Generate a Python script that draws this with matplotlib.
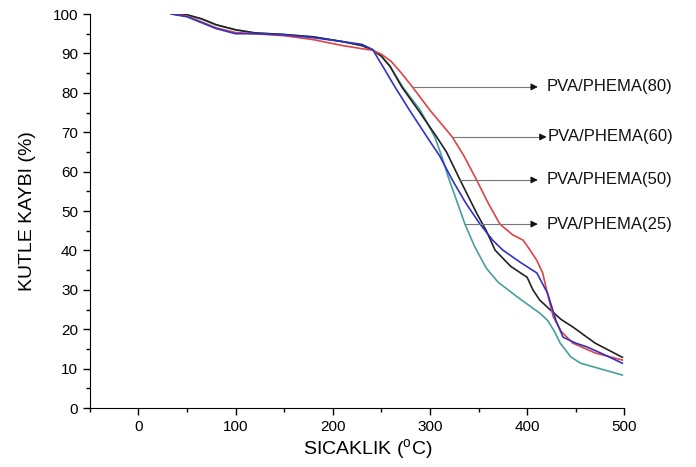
import matplotlib
matplotlib.use("Agg")
import matplotlib.pyplot as plt
from matplotlib.ticker import MultipleLocator

plt.rcParams['font.family'] = ['Liberation Sans', 'DejaVu Sans']
plt.rcParams['mathtext.fontset'] = 'custom'
plt.rcParams['mathtext.rm'] = 'Liberation Sans'

# early part (~35-241 C), same grid for all four
t_early = [34, 50, 65, 80, 100, 120, 150, 180, 210, 230, 241]
black_early = [100, 99.8, 98.8, 97.3, 96.0, 95.2, 94.8, 94.2, 93.0, 92.0, 90.9]
red_early = [100, 99.5, 98.0, 96.5, 95.3, 95.0, 94.5, 93.5, 92.0, 91.2, 90.8]
blue_early = [100, 99.3, 97.8, 96.3, 95.0, 95.0, 94.7, 94.0, 93.0, 92.3, 91.0]
teal_early = [100, 99.8, 98.7, 97.2, 96.0, 95.2, 94.8, 94.2, 93.0, 92.0, 90.9]

# decomposition part
t_red = [250, 260, 270, 282, 300, 323, 335, 348, 360, 372, 385, 396, 403, 410, 416, 421, 427, 435, 447, 470, 498]
red_late = [89.8, 88.0, 85.2, 81.5, 75.6, 68.8, 64.0, 57.9, 52.0, 46.7, 44.0, 42.6, 40.1, 37.5, 34.3, 29.0, 23.1, 19.5, 16.5, 14.0, 12.2]

t_black = [250, 259, 271, 288, 307, 317, 331, 348, 358, 367, 383, 400, 406, 413, 424, 435, 447, 470, 498]
black_late = [89.3, 86.7, 81.5, 75.6, 68.8, 65.0, 57.9, 49.5, 45.0, 40.1, 36.0, 33.2, 30.0, 27.4, 24.9, 22.5, 20.6, 16.5, 12.9]

t_blue = [251.5, 264, 279, 297, 310, 323, 337, 351.5, 365, 375, 393, 410, 416, 421, 430, 437, 450, 462, 480, 498]
blue_late = [86.7, 81.5, 75.6, 68.8, 64.0, 57.9, 52.0, 46.7, 42.5, 40.1, 37.0, 34.3, 31.5, 29.2, 22.0, 18.0, 16.5, 15.5, 13.5, 11.4]

t_teal = [250, 259, 272, 290, 305, 312, 319, 327, 336, 346, 358, 370, 390, 413, 421, 428, 434, 445, 455, 475, 498]
teal_late = [89.3, 86.7, 81.5, 75.6, 68.8, 64.0, 58.5, 53.0, 46.7, 41.0, 35.5, 32.0, 28.2, 24.1, 22.3, 19.5, 16.5, 13.0, 11.4, 10.0, 8.4]

labels = ['PVA/PHEMA(80)', 'PVA/PHEMA(60)', 'PVA/PHEMA(50)', 'PVA/PHEMA(25)']
arrow_start_x = [282, 323, 331, 336]
arrow_y = [81.5, 68.8, 57.9, 46.7]
arrow_tip_x = [411, 420, 411, 411]
label_x = [420.5, 421.5, 420.5, 420.5]

fig = plt.figure(figsize=(6.96, 4.67), dpi=100)
ax = fig.add_axes([0.129, 0.126, 0.768, 0.844])

ax.plot(t_early + t_teal, teal_early + teal_late, color='#45a09c', lw=1.2)
ax.plot(t_early + t_black, black_early + black_late, color='#222222', lw=1.2)
ax.plot(t_early + t_red, red_early + red_late, color='#dd4444', lw=1.2)
ax.plot(t_early + t_blue, blue_early + blue_late, color='#3232c8', lw=1.2)

for lab, x0, y0, x1, xt in zip(labels, arrow_start_x, arrow_y, arrow_tip_x, label_x):
    ax.plot([x0, x1 - 4], [y0, y0], color='#777777', lw=0.8)
    ax.annotate('', xy=(x1, y0), xytext=(x1 - 5, y0),
                arrowprops=dict(arrowstyle='-|>', color='#111111', lw=0.8,
                                mutation_scale=10, shrinkA=0, shrinkB=0))
    ax.text(xt, y0, lab, fontsize=12, va='center', ha='left', color='#111111')

ax.set_xlim(-50, 500)
ax.set_ylim(0, 100)
ax.xaxis.set_major_locator(MultipleLocator(100))
ax.xaxis.set_minor_locator(MultipleLocator(50))
ax.yaxis.set_major_locator(MultipleLocator(10))
ax.yaxis.set_minor_locator(MultipleLocator(5))
ax.tick_params(which='major', direction='out', length=5, width=1, labelsize=11)
ax.tick_params(which='minor', direction='out', length=3, width=1)
ax.spines['top'].set_visible(False)
ax.spines['right'].set_visible(False)

ax.set_xlabel(r'SICAKLIK ($^{\mathrm{o}}$C)', fontsize=14, labelpad=2)
ax.set_ylabel('KUTLE KAYBI (%)', fontsize=14, labelpad=12)
ax.xaxis.set_label_coords(0.52, -0.075)

fig.savefig('out.png', dpi=100)
